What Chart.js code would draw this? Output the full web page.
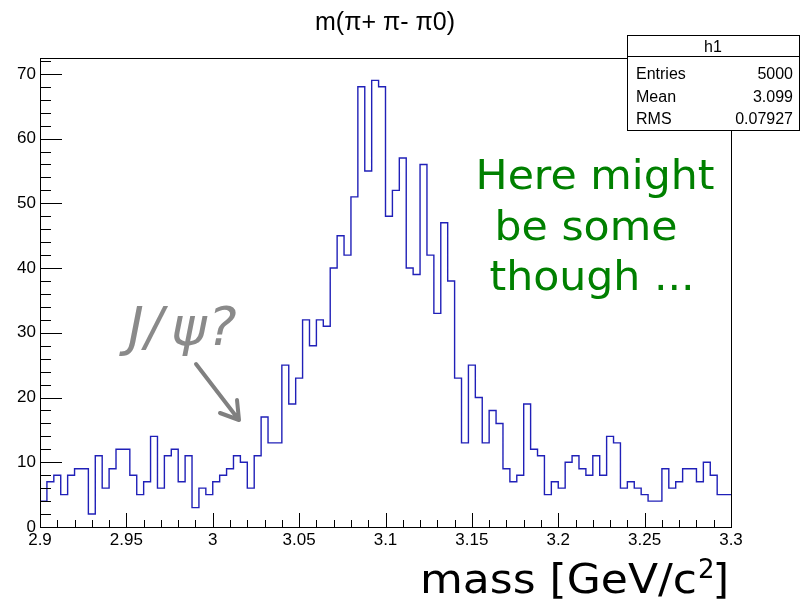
<!DOCTYPE html>
<html>
<head>
<meta charset="utf-8">
<script src="https://cdn.jsdelivr.net/npm/chart.js@4.4.1/dist/chart.umd.min.js"></script>
<style>
  html, body { margin: 0; padding: 0; background: #ffffff; }
  #wrap { width: 806px; height: 602px; }
</style>
</head>
<body>
<div id="wrap"><canvas id="histChart" width="806" height="602"></canvas></div>
<script>
// histogram h1: 100 bins between 2.9 and 3.3
const xMin = 2.9;
const xMax = 3.3;
const nBins = 100;
const binCounts = [
  4, 7, 8, 5, 8, 9, 9, 2, 11, 6,
  9, 12, 12, 8, 5, 7, 14, 6, 11, 12,
  7, 11, 3, 6, 5, 7, 8, 9, 11, 10,
  6, 11, 17, 13, 13, 25, 19, 23, 32, 28,
  32, 31, 40, 45, 42, 51, 68, 55, 69, 68,
  48, 52, 57, 40, 39, 56, 42, 33, 47, 38,
  23, 13, 25, 20, 13, 18, 16, 9, 7, 8,
  19, 12, 11, 5, 7, 6, 10, 11, 9, 8,
  11, 8, 14, 13, 6, 7, 6, 5, 4, 4,
  9, 6, 7, 9, 9, 7, 10, 8, 5, 5
];
const yMaxValue = 72.45;
const xTickLabels = ["2.9", "2.95", "3", "3.05", "3.1", "3.15", "3.2", "3.25", "3.3"];
const yTickLabels = ["0", "10", "20", "30", "40", "50", "60", "70"];
const statsLabels = ["Entries", "Mean", "RMS"];
const statsValues = ["5000", "3.099", "0.07927"];
const titleText = "m(\u03c0+ \u03c0- \u03c00)";
const noteLines = ["Here might", "be some", "though ..."];

const binWidth = (xMax - xMin) / nBins;
const histPoints = binCounts.map((v, i) => ({ x: xMin + i * binWidth, y: v }));
histPoints.push({ x: xMax, y: binCounts[binCounts.length - 1] });

// draw text stretched a little horizontally (reference fonts are wider)
function wideText(ctx, text, x, y, sx, align) {
  ctx.save();
  ctx.translate(x, y);
  ctx.scale(sx, 1);
  ctx.textAlign = align;
  ctx.fillText(text, 0, 0);
  ctx.restore();
}

// frame, ticks, labels and the pasted notes, drawn with the chart's own scales
const rootFrame = {
  id: "rootFrame",
  afterDraw(chart) {
    const ctx = chart.ctx;
    const a = chart.chartArea;
    const xs = chart.scales.x;
    const ys = chart.scales.y;
    ctx.save();

    // frame
    ctx.strokeStyle = "#000000";
    ctx.lineWidth = 1;
    ctx.strokeRect(Math.round(a.left) + 0.5, Math.round(a.top) + 0.5,
      Math.round(a.right - a.left), Math.round(a.bottom - a.top));

    // y ticks (every 2, major every 10)
    ctx.beginPath();
    for (let k = 0; k * 2 <= yMaxValue; k++) {
      const y = Math.round(ys.getPixelForValue(k * 2)) + 0.5;
      const len = (k % 5 === 0) ? 22 : 11;
      ctx.moveTo(a.left, y);
      ctx.lineTo(a.left + len, y);
    }
    // x ticks (every 0.01, major every 0.05)
    for (let k = 0; k <= 40; k++) {
      const x = Math.round(xs.getPixelForValue(xMin + k * 0.01)) + 0.5;
      const len = (k % 5 === 0) ? 14 : 7;
      ctx.moveTo(x, a.bottom);
      ctx.lineTo(x, a.bottom - len);
    }
    ctx.stroke();

    // tick labels
    ctx.fillStyle = "#000000";
    ctx.font = "17px 'Liberation Sans', Arial, sans-serif";
    ctx.textAlign = "right";
    ctx.textBaseline = "middle";
    yTickLabels.forEach(t => {
      ctx.fillText(t, a.left - 4, ys.getPixelForValue(parseFloat(t)));
    });
    ctx.textAlign = "center";
    ctx.textBaseline = "top";
    xTickLabels.forEach(t => {
      ctx.fillText(t, xs.getPixelForValue(parseFloat(t)), a.bottom + 5);
    });

    // title
    ctx.font = "25px 'Liberation Sans', Arial, sans-serif";
    ctx.textBaseline = "alphabetic";
    ctx.fillText(titleText, 385, 30);

    // axis title: mass [GeV/c^2]
    ctx.font = "40px 'DejaVu Sans', sans-serif";
    wideText(ctx, "mass [GeV/c", 697, 593, 1.1, "right");
    ctx.font = "26px 'DejaVu Sans', sans-serif";
    wideText(ctx, "2", 698, 578, 1.0, "left");
    ctx.font = "40px 'DejaVu Sans', sans-serif";
    wideText(ctx, "]", 729, 593, 1.06, "right");

    // stats box
    const bx = 627, by = 35, bw = 172, bh = 95;
    ctx.fillStyle = "#ffffff";
    ctx.fillRect(bx, by, bw, bh);
    ctx.strokeStyle = "#000000";
    ctx.strokeRect(bx + 0.5, by + 0.5, bw, bh);
    ctx.beginPath();
    ctx.moveTo(bx, 56.5);
    ctx.lineTo(bx + bw, 56.5);
    ctx.stroke();
    ctx.fillStyle = "#000000";
    ctx.font = "16px 'Liberation Sans', Arial, sans-serif";
    ctx.textAlign = "center";
    ctx.fillText("h1", bx + bw / 2, 52);
    statsLabels.forEach((t, i) => {
      const yy = 79 + i * 22.5;
      ctx.textAlign = "left";
      ctx.fillText(t, 636, yy);
      ctx.textAlign = "right";
      ctx.fillText(statsValues[i], 793, yy);
    });

    // green note
    ctx.fillStyle = "#008000";
    ctx.font = "41px 'DejaVu Sans', sans-serif";
    wideText(ctx, noteLines[0], 595, 189, 1.04, "center");
    wideText(ctx, noteLines[1], 586, 240, 1.04, "center");
    wideText(ctx, noteLines[2], 592, 290, 1.04, "center");

    // J/psi? with arrow
    ctx.fillStyle = "#8a8a8a";
    ctx.font = "italic 54px 'DejaVu Sans', sans-serif";
    ctx.textAlign = "left";
    ctx.fillText("J", 128, 345);
    ctx.fillText("/", 145, 345);
    ctx.fillText("\u03c8", 171, 345);
    ctx.fillText("?", 208, 345);
    ctx.strokeStyle = "#808080";
    ctx.lineWidth = 4;
    ctx.lineCap = "round";
    ctx.beginPath();
    ctx.moveTo(196, 364);
    ctx.lineTo(239, 420);
    ctx.moveTo(239, 420);
    ctx.lineTo(220, 413);
    ctx.moveTo(239, 420);
    ctx.lineTo(237, 400);
    ctx.stroke();

    ctx.restore();
  }
};

const histCtx = document.getElementById("histChart").getContext("2d");
const histChart = new Chart(histCtx, {
  type: "line",
  data: {
    datasets: [
      {
        label: "h1",
        data: histPoints,
        borderColor: "#2020b8",
        borderWidth: 1.4,
        stepped: "before",
        pointRadius: 0,
        fill: false
      }
    ]
  },
  options: {
    responsive: false,
    animation: false,
    layout: { padding: { left: 40, top: 58, right: 75, bottom: 75 } },
    plugins: {
      legend: { display: false },
      tooltip: { enabled: false }
    },
    scales: {
      x: { type: "linear", min: xMin, max: xMax, display: false },
      y: { min: 0, max: yMaxValue, display: false }
    }
  },
  plugins: [rootFrame]
});
</script>
</body>
</html>
